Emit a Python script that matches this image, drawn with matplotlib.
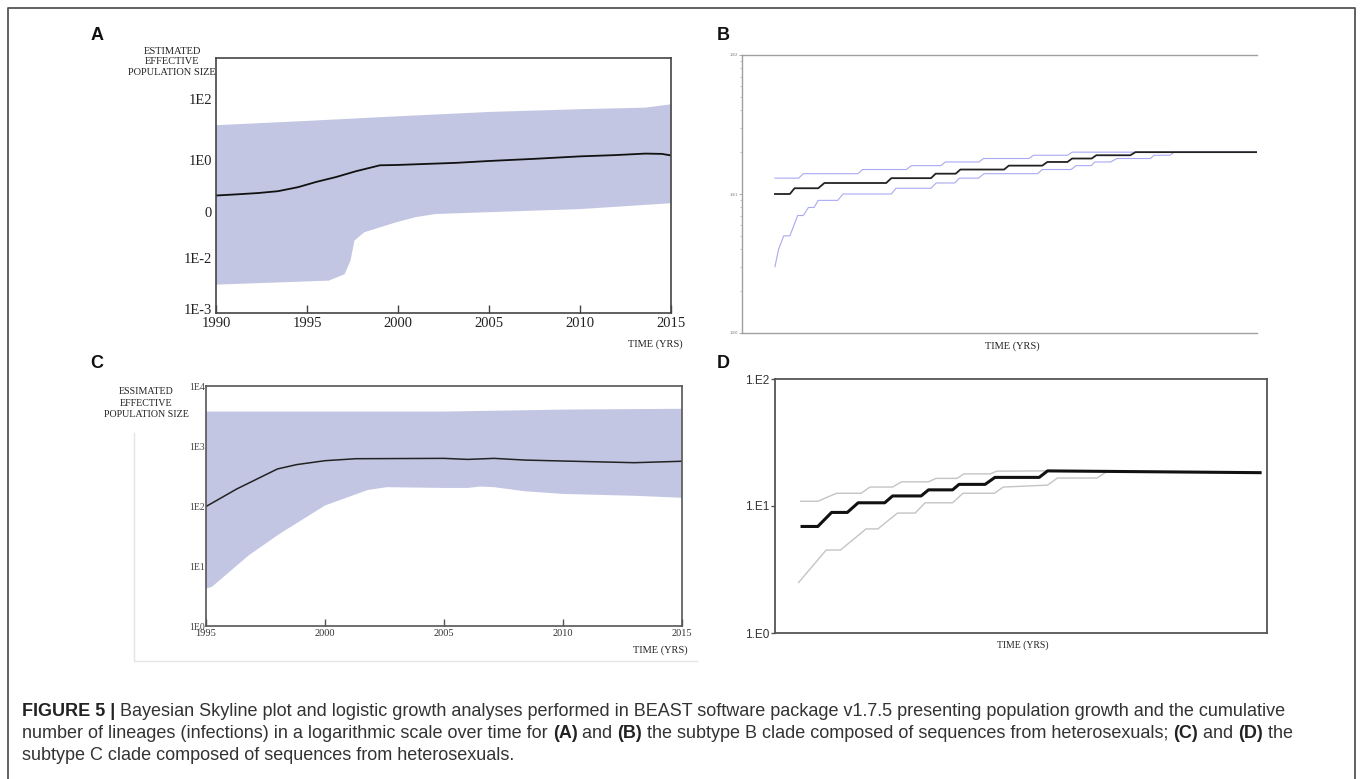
import matplotlib
matplotlib.use("Agg")
import matplotlib.pyplot as plt
from matplotlib.lines import Line2D

# ---------------- data ----------------
# Panel A: Bayesian skyline, subtype B (values are log10 of effective size)
a_year_med = [1990.0, 1991.2, 1992.3, 1993.4, 1994.5, 1995.5, 1996.6, 1997.7, 1998.6,
              1999.0, 1999.9, 2003.2, 2005.0, 2007.5, 2010.0, 2011.9, 2013.6, 2014.5, 2015.0]
a_med = [-1.14, -1.10, -1.06, -1.00, -0.87, -0.70, -0.54, -0.35, -0.22,
         -0.16, -0.15, -0.08, -0.02, 0.05, 0.13, 0.17, 0.22, 0.21, 0.16]
a_year_up = [1990.0, 1995.0, 2000.0, 2005.0, 2010.0, 2013.6, 2015.0]
a_up = [1.14, 1.28, 1.43, 1.57, 1.66, 1.71, 1.82]
a_year_lo = [1990.0, 1996.2, 1997.07, 1997.39, 1997.61, 1998.15, 1999.02, 1999.89,
             2000.98, 2002.07, 2005.0, 2010.0, 2015.0]
a_lo = [-4.03, -3.90, -3.69, -3.25, -2.60, -2.33, -2.17, -2.01, -1.84, -1.74, -1.68, -1.58, -1.39]
a_tick_pos = [2.0, 0.0, -1.68, -3.17, -4.81]
a_tick_lab = ["1E2", "1E0", "0", "1E-2", "1E-3"]
a_years = [1990, 1995, 2000, 2005, 2010, 2015]

# Panel B: lineages through time, subtype B
b_t_med = [6.4, 9.3, 10.2, 14.8, 16.0, 28.0, 29.0, 36.7, 37.6, 41.5, 42.4, 50.9, 51.8,
           58.3, 59.3, 63.2, 64.1, 67.9, 68.8, 75.4, 76.4, 100]
b_med = [10, 10, 11, 11, 12, 12, 13, 13, 14, 14, 15, 15, 16, 16, 17, 17, 18, 18, 19, 19, 20, 20]
b_t_up = [6.4, 11.0, 11.9, 22.5, 23.4, 31.9, 32.9, 38.6, 39.5, 46.0, 46.9, 55.7, 56.6, 63.2, 64.1, 100]
b_up = [13, 13, 14, 14, 15, 15, 16, 16, 17, 17, 18, 18, 19, 19, 20, 20]
b_t_lo = [6.4, 7.1, 8.1, 9.3, 10.8, 11.9, 12.9, 14.0, 14.8, 18.6, 19.6, 29.0, 29.9, 36.7,
          37.7, 41.3, 42.2, 45.9, 47.0, 57.4, 58.3, 63.9, 64.9, 67.8, 68.5, 71.6, 72.8,
          79.3, 80.0, 83.1, 83.9, 100]
b_lo = [3, 4, 5, 5, 7, 7, 8, 8, 9, 9, 10, 10, 11, 11, 12, 12, 13, 13, 14, 14, 15, 15,
        16, 16, 17, 17, 18, 18, 19, 19, 20, 20]

# Panel C: Bayesian skyline, subtype C
c_year_med = [1995.0, 1996.3, 1998.0, 1998.8, 2000.0, 2001.3, 2005.0, 2006.0, 2007.1,
              2008.4, 2010.0, 2013.0, 2015.0]
c_med = [98, 193, 414, 489, 569, 614, 622, 598, 622, 583, 562, 527, 557]
c_year_up = [1995.0, 2000.0, 2005.0, 2008.4, 2010.0, 2015.0]
c_up = [3750, 3750, 3750, 3945, 4046, 4169]
c_year_lo = [1995.0, 1995.25, 1996.8, 1998.1, 2000.0, 2001.8, 2002.6, 2005.0, 2006.0,
             2006.5, 2007.1, 2008.4, 2010.0, 2013.0, 2015.0]
c_lo = [4.2, 4.5, 15.1, 34.5, 102, 185, 206, 200, 200, 211, 206, 176, 159, 148, 137]
c_tick_val = [1e4, 1e3, 1e2, 1e1, 1e0]
c_tick_lab = ["1E4", "1E3", "1E2", "1E1", "1E0"]
c_years = [1995, 2000, 2005, 2010, 2015]

# Panel D: lineages through time, subtype C
d_t_med = [5.5, 8.7, 11.5, 14.7, 16.9, 22.3, 23.9, 29.7, 31.2, 36.1, 37.4, 42.7, 44.7, 53.7, 55.4, 98.6]
d_med = [6.9, 6.9, 8.9, 8.9, 10.6, 10.6, 12.0, 12.0, 13.4, 13.4, 14.8, 14.8, 16.8, 16.8, 18.9, 18.3]
d_t_up = [5.2, 8.7, 12.5, 17.5, 19.3, 23.9, 25.7, 31.2, 32.7, 37.0, 38.4, 43.8, 45.0, 55.4]
d_up = [10.9, 10.9, 12.6, 12.6, 14.1, 14.1, 15.5, 15.5, 16.5, 16.5, 17.9, 17.9, 18.8, 18.9]
d_t_lo = [4.8, 10.4, 13.3, 18.5, 20.9, 24.9, 28.5, 30.5, 36.1, 38.2, 44.6, 46.4, 55.4, 57.4, 65.5, 67.5]
d_lo = [2.5, 4.5, 4.5, 6.6, 6.6, 8.8, 8.8, 10.6, 10.6, 12.6, 12.6, 14.1, 14.6, 16.6, 16.6, 18.75]
lt_tick_val = [100, 10, 1]
b_tick_lab = ["1.E2", "1.E1", "1.E0"]
d_tick_lab = ["1.E2", "1.E1", "1.E0"]

caption_lines = [
    [("FIGURE 5 |", True),
     (" Bayesian Skyline plot and logistic growth analyses performed in BEAST software package "
      "v1.7.5 presenting population growth and the cumulative", False)],
    [("number of lineages (infections) in a logarithmic scale over time for ", False), ("(A)", True),
     (" and ", False), ("(B)", True),
     (" the subtype B clade composed of sequences from heterosexuals; ", False), ("(C)", True),
     (" and ", False), ("(D)", True), (" the", False)],
    [("subtype C clade composed of sequences from heterosexuals.", False)],
]

# ---------------- figure ----------------
W, H = 1360, 779
fig = plt.figure(figsize=(W / 100, H / 100), dpi=100)
fig.patch.set_facecolor("white")

SERIF = ["Liberation Serif", "DejaVu Serif"]
SANS = ["Liberation Sans", "DejaVu Sans"]
BAND = "#c3c6e2"


def fx(x):
    return x / W


def fy(y):
    return 1 - y / H


def ax_px(l, t, r, b):
    return fig.add_axes([l / W, 1 - b / H, (r - l) / W, (b - t) / H])


def ftext(x, y, s, **kw):
    return fig.text(fx(x), fy(y), s, **kw)


def fline(xs, ys, **kw):
    fig.add_artist(Line2D([fx(v) for v in xs], [fy(v) for v in ys],
                          transform=fig.transFigure, **kw))


# outer frame of the figure
fline([8, 8, 1355, 1355], [790, 8, 8, 790], color="#555555", lw=1.3)

# panel letters
for s, x, y in [("A", 97, 36), ("B", 723, 36), ("C", 97, 363), ("D", 723, 363)]:
    ftext(x, y, s, fontsize=13, fontweight="bold", family=SANS, ha="center", va="center", color="#111111")

# ---- Panel A ----
axA = ax_px(216, 58, 671, 313)
axA.fill(a_year_up + a_year_lo[::-1], a_up + a_lo[::-1], color=BAND, lw=0)
axA.plot(a_year_med, a_med, color="#111111", lw=1.3)
axA.set_xlim(1990, 2015)
axA.set_ylim(-4.95, 3.32)
axA.set_xticks(a_years)
axA.set_xticklabels([str(v) for v in a_years], family=SERIF, fontsize=10.5, color="#222222")
axA.set_yticks(a_tick_pos)
axA.set_yticklabels(a_tick_lab, family=SERIF, fontsize=10.5, color="#222222")
axA.tick_params(axis="x", direction="in", length=6, width=1, color="#444444", pad=3)
axA.tick_params(axis="y", length=0, pad=3)
for sp in axA.spines.values():
    sp.set_color("#444444")
    sp.set_linewidth(1.2)
ftext(172, 62, "ESTIMATED\nEFFECTIVE\nPOPULATION SIZE", family=SERIF, fontsize=7.5,
      ha="center", va="center", linespacing=1.25, color="#222222")
ftext(683, 344, "TIME (YRS)", family=SERIF, fontsize=7.5, ha="right", va="center", color="#222222")

# ---- Panel B ----
axB = ax_px(742, 55, 1257, 333)
axB.plot(b_t_up, b_up, color="#a9a9f2", lw=0.8)
axB.plot(b_t_lo, b_lo, color="#a9a9f2", lw=0.8)
axB.plot(b_t_med, b_med, color="#222222", lw=1.3)
axB.set_yscale("log")
axB.set_ylim(1, 100)
axB.set_xlim(0, 100)
axB.set_xticks([])
axB.set_yticks(lt_tick_val)
axB.set_yticklabels(b_tick_lab, family=SANS, fontsize=3, color="#777777")
axB.tick_params(axis="y", which="major", length=2, width=0.6, color="#999999", pad=1)
axB.tick_params(axis="y", which="minor", length=1.5, width=0.5, color="#aaaaaa", labelleft=False)
axB.spines["right"].set_visible(False)
for k in ("left", "top", "bottom"):
    axB.spines[k].set_color("#a0a0a0")
    axB.spines[k].set_linewidth(1.0)
ftext(1012, 346, "TIME (YRS)", family=SERIF, fontsize=7.5, ha="center", va="center", color="#222222")

# ---- Panel C ----
fline([134, 134, 697], [433, 661, 661], color="#e4e4e4", lw=1.0)
axC = ax_px(206, 386, 682, 626)
axC.fill(c_year_up + c_year_lo[::-1], c_up + c_lo[::-1], color=BAND, lw=0)
axC.plot(c_year_med, c_med, color="#222222", lw=1.1)
axC.set_yscale("log")
axC.set_ylim(1, 1e4)
axC.set_xlim(1995, 2015)
axC.set_xticks(c_years)
axC.set_xticklabels([str(v) for v in c_years], family=SERIF, fontsize=7.5, color="#333333")
axC.set_yticks(c_tick_val)
axC.set_yticklabels(c_tick_lab, family=SERIF, fontsize=7, color="#444444")
axC.minorticks_off()
axC.tick_params(axis="x", direction="in", length=5, width=1, color="#555555", pad=2)
axC.tick_params(axis="y", length=0, pad=1)
for sp in axC.spines.values():
    sp.set_color("#555555")
    sp.set_linewidth(1.2)
ftext(146, 403, "ESSIMATED\nEFFECTIVE\nPOPULATION SIZE", family=SERIF, fontsize=7.2,
      ha="center", va="center", linespacing=1.3, color="#222222")
ftext(688, 650, "TIME (YRS)", family=SERIF, fontsize=7.5, ha="right", va="center", color="#222222")

# ---- Panel D ----
axD = ax_px(775, 379, 1267, 633)
axD.plot(d_t_up, d_up, color="#c4c4c4", lw=1.0)
axD.plot(d_t_lo, d_lo, color="#c4c4c4", lw=1.0)
axD.plot(d_t_med, d_med, color="#111111", lw=2.2)
axD.set_yscale("log")
axD.set_ylim(1, 100)
axD.set_xlim(0, 100)
axD.set_xticks([])
axD.set_yticks(lt_tick_val)
axD.set_yticklabels(d_tick_lab, family=SANS, fontsize=8.5, color="#333333")
axD.minorticks_off()
axD.tick_params(axis="y", length=3, width=1, color="#555555", pad=1)
for sp in axD.spines.values():
    sp.set_color("#555555")
    sp.set_linewidth(1.3)
ftext(1023, 645, "TIME (YRS)", family=SERIF, fontsize=7, ha="center", va="center", color="#222222")

# ---- caption with bold runs ----
renderer = fig.canvas.get_renderer()


def run_width(s, **kw):
    probe = fig.text(0, 0, "|" + s + "|", **kw)
    bar = fig.text(0, 0, "||", **kw)
    w = probe.get_window_extent(renderer).width - bar.get_window_extent(renderer).width
    probe.remove()
    bar.remove()
    return w


cap_y = [716, 738, 760]
for y, parts in zip(cap_y, caption_lines):
    x = 22
    for s, bold in parts:
        kw = dict(fontsize=13, family=SANS, fontweight="bold" if bold else "normal",
                  color="#333333" if not bold else "#222222")
        ftext(x, y, s, va="baseline", ha="left", **kw)
        x += run_width(s, **kw)

fig.savefig("out.png", dpi=100, facecolor="white")
